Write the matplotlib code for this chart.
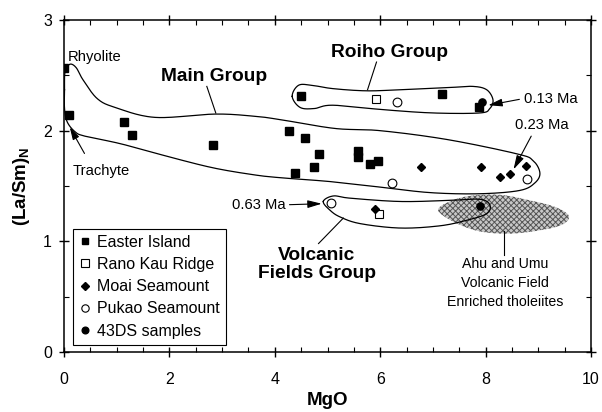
import numpy as np
import matplotlib
matplotlib.use("Agg")
import matplotlib.pyplot as plt
from matplotlib.lines import Line2D
from matplotlib.ticker import MultipleLocator

plt.rcParams['font.family'] = ['Liberation Sans', 'DejaVu Sans']
plt.rcParams['mathtext.fontset'] = 'custom'
plt.rcParams['mathtext.rm'] = 'Liberation Sans'
plt.rcParams['mathtext.bf'] = 'Liberation Sans:bold'
plt.rcParams['hatch.linewidth'] = 0.7

# ---- sample data: MgO (wt%) vs chondrite-normalised La/Sm ----
easter_mgo = [0.00, 0.10, 1.14, 1.29, 2.83, 4.27, 4.57, 4.83, 4.75, 4.38,
              5.57, 5.57, 5.81, 5.95, 4.49, 7.17, 7.87]
easter_lasm = [2.57, 2.14, 2.08, 1.96, 1.87, 2.00, 1.93, 1.79, 1.67, 1.62,
               1.82, 1.76, 1.70, 1.73, 2.31, 2.33, 2.21]

ranokau_mgo = [5.92, 5.98]
ranokau_lasm = [2.29, 1.25]

moai_mgo = [6.77, 7.91, 8.27, 8.46, 8.77, 5.91]
moai_lasm = [1.67, 1.67, 1.58, 1.61, 1.68, 1.29]

pukao_mgo = [6.32, 6.22, 8.78, 5.06]
pukao_lasm = [2.26, 1.53, 1.56, 1.35]

ds43_mgo = [7.94, 7.89]
ds43_lasm = [2.26, 1.32]

# ---- group outlines (MgO, La/Sm vertices, smoothed when drawn) ----
main_x = [0.01, 0.02, 0.11, 0.23, 0.36, 0.63, 0.97, 1.73, 2.87, 3.62, 4.10,
          5.14, 6.00, 7.27, 8.60, 8.90, 9.03, 8.94, 8.65, 7.89, 6.95, 6.00,
          5.05, 4.10, 3.62, 2.87, 2.10, 1.09, 0.40, 0.21, 0.06, 0.01]
main_y = [2.37, 2.53, 2.60, 2.57, 2.46, 2.29, 2.21, 2.12, 2.15, 2.13, 2.10,
          2.02, 2.00, 1.92, 1.79, 1.73, 1.62, 1.53, 1.46, 1.43, 1.44, 1.49,
          1.54, 1.575, 1.60, 1.66, 1.75, 1.88, 1.95, 1.99, 2.08, 2.20]

roiho_x = [4.33, 4.45, 4.70, 5.10, 5.74, 6.38, 7.32, 7.76, 8.02, 8.14, 8.08,
           7.89, 7.00, 6.05, 5.10, 4.75, 4.48]
roiho_y = [2.31, 2.41, 2.41, 2.38, 2.36, 2.37, 2.39, 2.40, 2.37, 2.28, 2.20,
           2.16, 2.16, 2.19, 2.23, 2.20, 2.21]

volc_x = [4.92, 5.11, 5.43, 6.38, 7.32, 7.89, 8.08, 8.02, 7.64, 7.13, 6.38,
          5.62, 5.24, 5.05]
volc_y = [1.36, 1.41, 1.39, 1.36, 1.37, 1.38, 1.33, 1.25, 1.19, 1.14, 1.12,
          1.16, 1.22, 1.28]

ahu_x = [7.10, 7.32, 7.70, 8.27, 8.84, 9.32, 9.58, 9.45, 9.03, 8.46, 7.89, 7.42]
ahu_y = [1.28, 1.36, 1.41, 1.42, 1.37, 1.31, 1.23, 1.15, 1.10, 1.07, 1.09, 1.17]

legend_labels = ['Easter Island', 'Rano Kau Ridge', 'Moai Seamount',
                 'Pukao Seamount', '43DS samples']


def smooth_closed(xs, ys, n=24):
    """Closed Catmull-Rom curve through the given vertices."""
    p = np.column_stack([xs, ys]).astype(float)
    m = len(p)
    t = np.linspace(0, 1, n, endpoint=False)[:, None]
    segs = []
    for i in range(m):
        p0, p1, p2, p3 = p[(i - 1) % m], p[i], p[(i + 1) % m], p[(i + 2) % m]
        segs.append(0.5 * (2 * p1 + (-p0 + p2) * t
                           + (2 * p0 - 5 * p1 + 4 * p2 - p3) * t ** 2
                           + (-p0 + 3 * p1 - 3 * p2 + p3) * t ** 3))
    c = np.vstack(segs)
    c = np.vstack([c, c[:1]])
    return c[:, 0], c[:, 1]


fig = plt.figure(figsize=(6.02, 4.12), dpi=100)
ax = fig.add_axes([64 / 602, 60 / 412, 527 / 602, 332 / 412])

# stippled enriched-tholeiite field
hx, hy = smooth_closed(ahu_x, ahu_y)
ax.fill(hx, hy, facecolor='#c8c8c8', edgecolor='#555555', lw=0,
        hatch='xxxxxx', zorder=1)

for ox, oy in [(main_x, main_y), (roiho_x, roiho_y), (volc_x, volc_y)]:
    sx, sy = smooth_closed(ox, oy)
    ax.plot(sx, sy, color='black', lw=0.9, zorder=2)

ms = 5.2
ax.plot(easter_mgo, easter_lasm, 's', color='black', ms=ms, ls='none', zorder=3)
ax.plot(ranokau_mgo, ranokau_lasm, 's', mfc='white', mec='black', mew=0.8,
        ms=ms, ls='none', zorder=3)
ax.plot(moai_mgo, moai_lasm, 'D', color='black', ms=4.3, ls='none', zorder=3)
ax.plot(pukao_mgo, pukao_lasm, 'o', mfc='white', mec='black', mew=0.8,
        ms=6.3, ls='none', zorder=3)
ax.plot(ds43_mgo, ds43_lasm, 'o', color='black', ms=5.2, ls='none', zorder=4)

# group labels with leader lines
bold = dict(fontsize=13.8, fontweight='bold', ha='center', va='center')
ax.text(2.85, 2.49, 'Main Group', **bold)
ax.plot([2.71, 2.88], [2.40, 2.16], color='black', lw=0.8)
ax.text(6.17, 2.71, 'Roiho Group', **bold)
ax.plot([5.93, 5.76], [2.62, 2.37], color='black', lw=0.8)
ax.text(4.80, 0.79, 'Volcanic\nFields Group', linespacing=1.1, **bold)
ax.plot([4.83, 5.30], [0.98, 1.21], color='black', lw=0.8)

small = dict(fontsize=10.6, va='center')
ax.text(0.08, 2.67, 'Rhyolite', ha='left', **small)
ax.annotate('Trachyte', xy=(0.11, 2.03), xytext=(0.17, 1.64),
            ha='left', **small,
            arrowprops=dict(arrowstyle='-|>,head_length=0.7,head_width=0.2',
                            color='black', lw=0.8, shrinkA=6, shrinkB=0,
                            relpos=(0.3, 1.0)))

arrow = dict(arrowstyle='-|>,head_length=0.8,head_width=0.22',
             color='black', lw=0.8, shrinkA=1, shrinkB=0)
ax.annotate('0.13 Ma', xy=(8.05, 2.23), xytext=(8.72, 2.29),
            ha='left', arrowprops=dict(arrow, relpos=(0.0, 0.5)), **small)
ax.annotate('0.23 Ma', xy=(8.53, 1.65), xytext=(8.55, 2.05),
            ha='left', arrowprops=dict(arrow, relpos=(0.35, 0.0)), **small)
ax.annotate('0.63 Ma', xy=(4.89, 1.34), xytext=(4.20, 1.33),
            ha='right', arrowprops=dict(arrow, relpos=(1.0, 0.5)), **small)

ax.plot([8.34, 8.34], [1.09, 0.88], color='black', lw=0.8)
ax.text(8.37, 0.86, 'Ahu and Umu\nVolcanic Field\nEnriched tholeiites',
        ha='center', va='top', fontsize=10.2, linespacing=1.45)

# axes, ticks and labels
ax.set_xlim(0, 10)
ax.set_ylim(0, 3)
ax.xaxis.set_major_locator(MultipleLocator(2))
ax.xaxis.set_minor_locator(MultipleLocator(0.5))
ax.yaxis.set_major_locator(MultipleLocator(1))
ax.yaxis.set_minor_locator(MultipleLocator(0.5))
ax.tick_params(which='major', direction='inout', length=7.5, width=1.0,
               top=True, right=False, labelsize=11.5)
ax.tick_params(which='minor', direction='in', length=3.5, width=0.8,
               top=True, right=True)
ax.tick_params(axis='y', which='major', right=True)
ax.tick_params(axis='x', which='major', pad=11)
ax.tick_params(axis='y', which='major', pad=5)
for sp in ax.spines.values():
    sp.set_linewidth(1.1)

ax.set_xlabel('MgO', fontsize=13.5, fontweight='bold', labelpad=3)
ax.set_ylabel(r'$\mathbf{(La/Sm)_N}$', fontsize=13.5, labelpad=8)

handles = [
    Line2D([], [], marker='s', color='black', ls='none', ms=4.8),
    Line2D([], [], marker='s', mfc='white', mec='black', mew=0.8, ls='none', ms=5.3),
    Line2D([], [], marker='D', color='black', ls='none', ms=4.0),
    Line2D([], [], marker='o', mfc='white', mec='black', mew=0.8, ls='none', ms=5.3),
    Line2D([], [], marker='o', color='black', ls='none', ms=4.8),
]
leg = ax.legend(handles, legend_labels, loc='lower left',
                bbox_to_anchor=(0.018, 0.021), borderaxespad=0,
                fontsize=11.5, frameon=True, fancybox=False, framealpha=1,
                edgecolor='black', handlelength=0.6, handletextpad=0.45,
                labelspacing=0.45, borderpad=0.4)
leg.get_frame().set_linewidth(0.8)

fig.savefig('out.png', dpi=100)
